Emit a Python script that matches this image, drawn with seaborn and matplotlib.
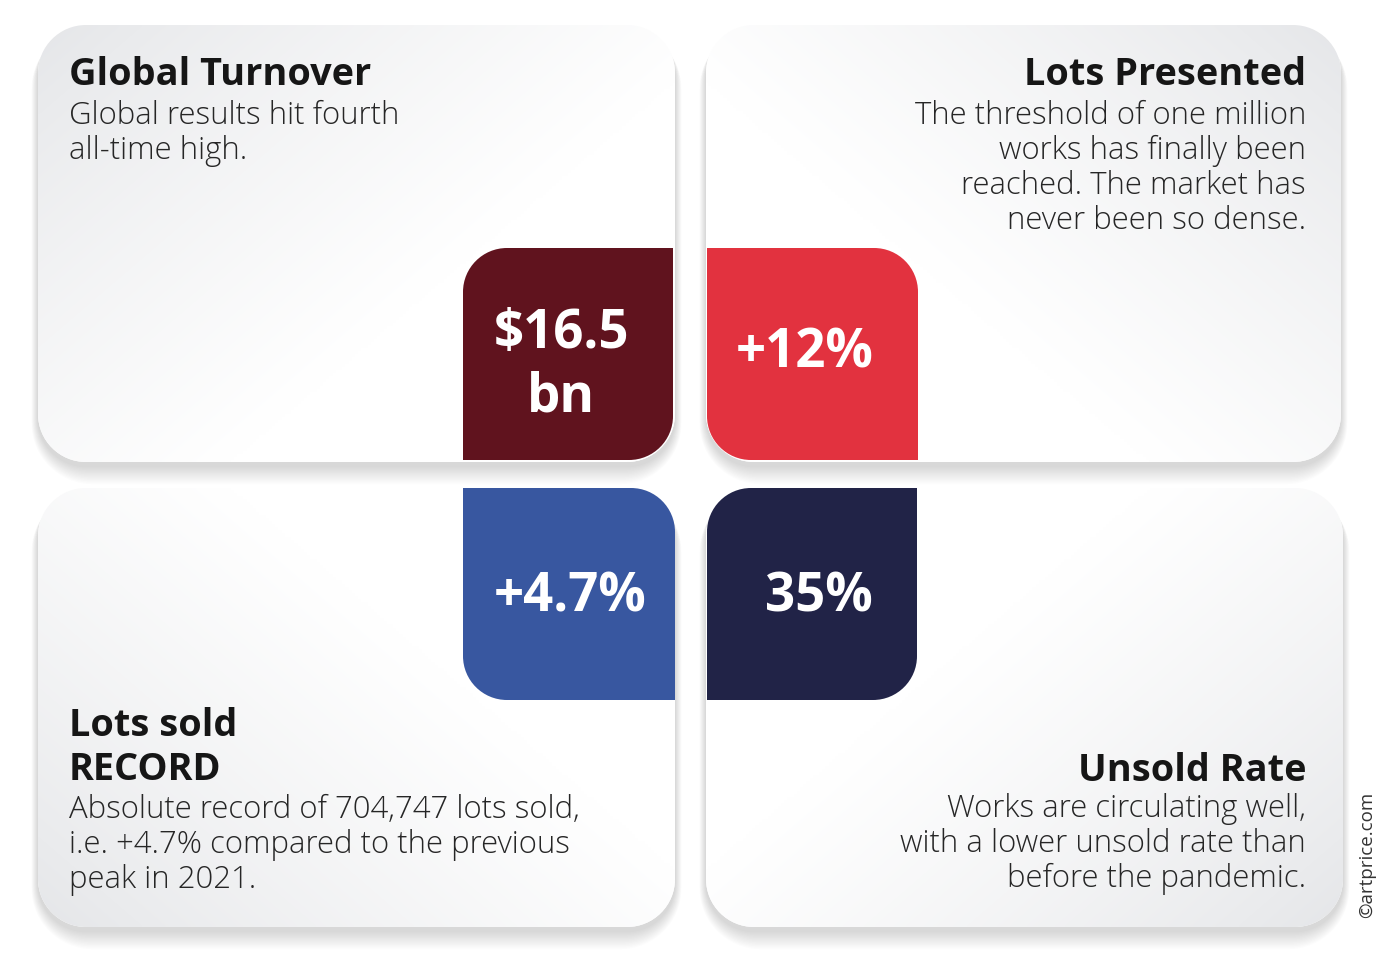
import numpy as np
import matplotlib.pyplot as plt
from matplotlib.path import Path
from matplotlib.patches import PathPatch
import seaborn as sns

sns.set_theme(style="white")
plt.rcParams['font.family'] = ['Open Sans', 'DejaVu Sans']

# --- content -------------------------------------------------------------
titles = [["Global Turnover"], ["Lots Presented"], ["Lots sold", "RECORD"], ["Unsold Rate"]]
bodies = [
    ["Global results hit fourth", "all-time high."],
    ["The threshold of one million", "works has finally been",
     "reached. The market has", "never been so dense."],
    ["Absolute record of 704,747 lots sold,",
     "i.e. +4.7% compared to the previous", "peak in 2021."],
    ["Works are circulating well,", "with a lower unsold rate than",
     "before the pandemic."],
]
values = [["$16.5", "bn"], ["+12%"], ["+4.7%"], ["35%"]]
box_colors = ["#60131e", "#e2323f", "#3857a0", "#212347"]
credit = "\u00a9artprice.com"

W, H = 1400, 974
K = 0.5523


def rounded(x0, y0, x1, y1, r):
    # r = (top-left, top-right, bottom-right, bottom-left); y grows downward
    tl, tr, br, bl = r
    v = [(x0 + tl, y0), (x1 - tr, y0),
         (x1 - tr + K * tr, y0), (x1, y0 + tr - K * tr), (x1, y0 + tr),
         (x1, y1 - br),
         (x1, y1 - br + K * br), (x1 - br + K * br, y1), (x1 - br, y1),
         (x0 + bl, y1),
         (x0 + bl - K * bl, y1), (x0, y1 - bl + K * bl), (x0, y1 - bl),
         (x0, y0 + tl),
         (x0, y0 + tl - K * tl), (x0 + tl - K * tl, y0), (x0 + tl, y0)]
    c = [Path.MOVETO, Path.LINETO, Path.CURVE4, Path.CURVE4, Path.CURVE4,
         Path.LINETO, Path.CURVE4, Path.CURVE4, Path.CURVE4, Path.LINETO,
         Path.CURVE4, Path.CURVE4, Path.CURVE4, Path.LINETO,
         Path.CURVE4, Path.CURVE4, Path.CURVE4]
    return Path(v, c)


fig = plt.figure(figsize=(14, 9.74), dpi=100)
ax = fig.add_axes([0, 0, 1, 1])
ax.set_xlim(0, W)
ax.set_ylim(H, 0)
ax.axis("off")

panels = [(38, 25, 675, 462), (706, 25, 1341, 462),
          (38, 488, 675, 927), (706, 488, 1343, 927)]
outer = [(0, 0), (1, 0), (0, 1), (1, 1)]  # grey corner of each panel

gray = np.array([0.895, 0.9, 0.91])
white = np.array([1.0, 1.0, 1.0])

for (x0, y0, x1, y1), (cx, cy) in zip(panels, outer):
    # soft shadow
    for i in range(1, 14):
        sp = rounded(x0 - i * 0.5, y0 + 3, x1 + i * 0.5, y1 + 4 + i * 1.4,
                     (48 + i,) * 4)
        ax.add_patch(PathPatch(sp, fc="black", ec="none", alpha=0.011, zorder=1))
    p = rounded(x0, y0, x1, y1, (48, 48, 48, 48))
    patch = PathPatch(p, fc="white", ec="none", zorder=2)
    ax.add_patch(patch)
    xx, yy = np.meshgrid(np.linspace(0, 1, 200), np.linspace(0, 1, 140))
    dx = xx if cx == 0 else 1 - xx
    dy = yy if cy == 0 else 1 - yy
    t = np.clip((dx * 1.0 + dy * 0.8) / 1.1, 0, 1) ** 0.8
    img = gray + (white - gray) * t[..., None]
    im = ax.imshow(img, extent=(x0, x1, y1, y0), zorder=3,
                   interpolation="bilinear", aspect="auto")
    im.set_clip_path(patch)

# coloured value boxes
boxes = [(463, 248, 673, 460, (44, 0, 44, 0)),
         (707, 248, 918, 460, (0, 44, 0, 44)),
         (463, 488, 675, 700, (0, 44, 0, 44)),
         (707, 488, 917, 700, (44, 0, 44, 0))]
for (x0, y0, x1, y1, r), col in zip(boxes, box_colors):
    ax.add_patch(PathPatch(rounded(x0, y0, x1, y1, r), fc=col, ec="none", zorder=5))

value_pos = [(561, 334), (805, 353), (570, 597), (819, 597)]
for (x, y), v in zip(value_pos, values):
    for k, line in enumerate(v):
        ax.text(x, y + k * 63, line, ha="center", va="center", color="white",
                fontsize=38, fontweight="bold", zorder=6)

# titles and descriptions
title_pos = [(69, 85, "left"), (1306, 85, "right"),
             (69, 736, "left"), (1306, 781, "right")]
body_start = [124, 124, 818, 817]
for (x, y, ha), t in zip(title_pos, titles):
    for k, line in enumerate(t):
        ax.text(x, y + k * 44, line, ha=ha, va="baseline", color="#161616",
                fontsize=27.3, fontweight="bold", zorder=6)
for (x, _, ha), b0, lines in zip(title_pos, body_start, bodies):
    for k, line in enumerate(lines):
        ax.text(x, b0 + k * 35, line, ha=ha, va="baseline", color="#262626",
                fontsize=22.4, fontweight="light", zorder=6)

ax.text(1367, 855, credit, rotation=90, ha="center", va="center",
        color="#333333", fontsize=13.5, zorder=6)

fig.savefig("out.png", dpi=100, facecolor="white")
